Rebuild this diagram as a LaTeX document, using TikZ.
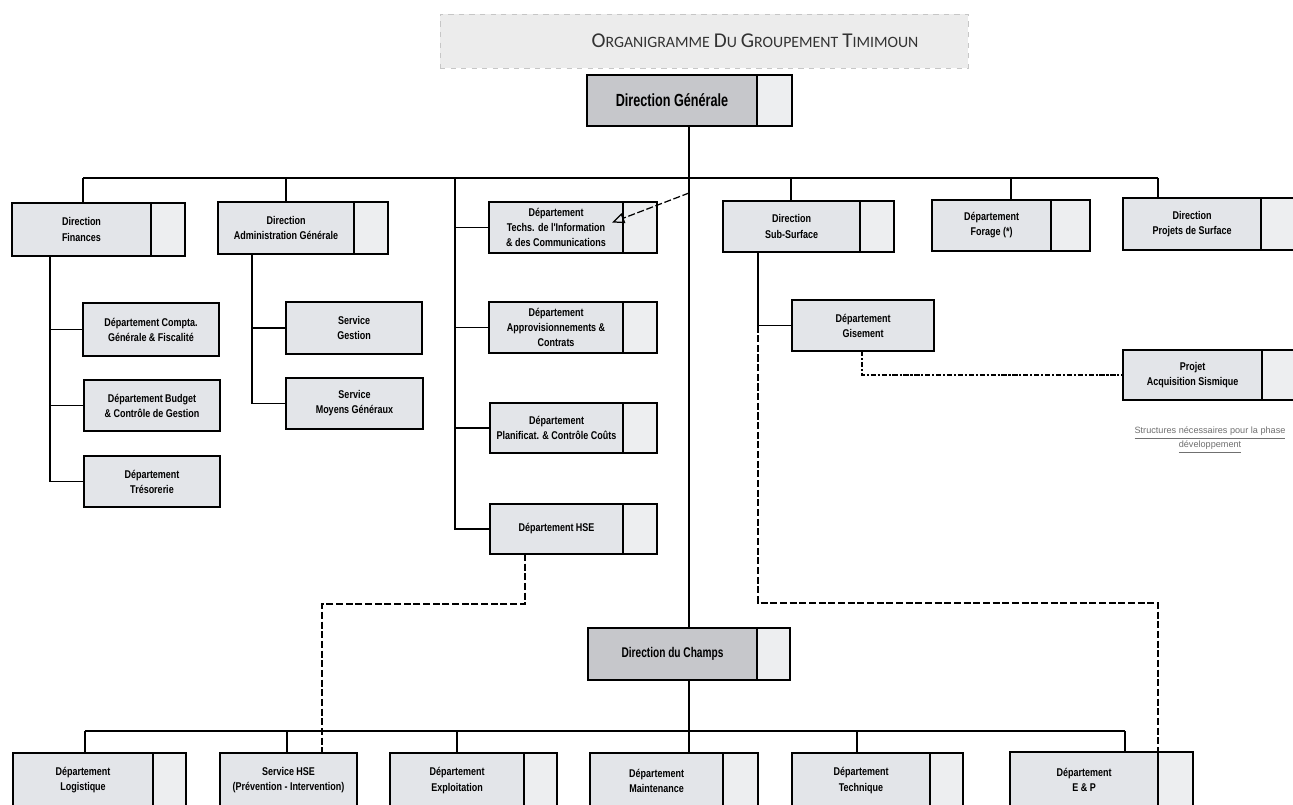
\documentclass[tikz,border=0pt]{standalone}
\usepackage{fontspec}
\setmainfont{Liberation Sans}
\newfontfamily\bxf{Liberation Sans}[FakeStretch=0.8]
\newfontfamily\dgf{Liberation Sans}[FakeStretch=0.72]
\newfontfamily\ttlf{Carlito}
\usetikzlibrary{arrows.meta,calc}
\definecolor{boxfill}{HTML}{E3E5E9}
\definecolor{sidefill}{HTML}{EDEEF0}
\definecolor{darkfill}{HTML}{C6C7CB}
\definecolor{titlefill}{HTML}{ECECEC}
\definecolor{notegray}{HTML}{707070}
\tikzset{
 box/.style={draw=black, line width=0.85pt, fill=boxfill, inner sep=0pt, outer sep=0pt, align=center, font=\bxf\bfseries\fontsize{6.4}{8.6}\selectfont},
 side/.style={draw=black, line width=0.85pt, fill=sidefill, inner sep=0pt, outer sep=0pt},
 bigbox/.style={box, fill=darkfill, font=\dgf\bfseries\fontsize{10}{12}\selectfont},
 bigboxb/.style={box, fill=darkfill, font=\dgf\bfseries\fontsize{8}{10}\selectfont},
 conn/.style={line width=0.7pt, black},
 dconn/.style={line width=0.7pt, black, dash pattern=on 4pt off 1.5pt},
 ddconn/.style={line width=1pt, black, dash pattern=on 3pt off 1pt on 1.2pt off 1pt},
 note/.style={align=center, text=notegray, inner sep=0pt, font=\fontsize{5.2}{8}\selectfont},
}
\newcommand\dbox[8][box]{%
 \node[#1, minimum width={(#4-#3)*0.02cm}, minimum height={(#7-#6)*0.02cm}] (#2) at ({(#3+#4)/2},{(#6+#7)/2}) {#8};
 \node[side, minimum width={(#5-#4)*0.02cm}, minimum height={(#7-#6)*0.02cm}, anchor=west] (#2s) at (#2.east) {};
}
\newcommand\pbox[7][box]{%
 \node[#1, minimum width={(#4-#3)*0.02cm}, minimum height={(#6-#5)*0.02cm}] (#2) at ({(#3+#4)/2},{(#5+#6)/2}) {#7};
}
\newcommand\tsc[2]{{\fontsize{12}{12}\selectfont #1}{\fontsize{9}{12}\selectfont #2}}
\begin{document}
\begin{tikzpicture}[x=0.02cm,y=-0.02cm]
\useasboundingbox (0,0) rectangle (1293,804);
\clip (0,0) rectangle (1293,804);
\fill[white] (0,0) rectangle (1293,804);
% title
\node[fill=titlefill, draw=gray!45, dashed, line width=0.4pt, minimum width={528*0.02cm}, minimum height={54*0.02cm}, inner sep=0pt] (tband) at (704,41) {};
\node[text=black!80, inner sep=0pt, font=\ttlf] (title) at (755,41) {\tsc{O}{RGANIGRAMME} \tsc{D}{U} \tsc{G}{ROUPEMENT} \tsc{T}{IMIMOUN}};
% boxes
\dbox[bigbox]{dg}{587}{757}{792}{75}{126}{Direction Générale}
\dbox{fin}{12}{151}{185}{203}{256}{Direction\\Finances}
\dbox{adm}{218}{354}{388}{202}{254}{Direction\\Administration Générale}
\dbox{tic}{489}{623}{657}{202}{253}{Département\\Techs. de l'Information\\\& des Communications}
\dbox{sub}{723}{860}{894}{201}{252}{Direction\\Sub-Surface}
\dbox{for}{932}{1051}{1090}{200}{251}{Département\\Forage (*)}
\dbox{prs}{1123}{1261}{1300}{198}{250}{Direction\\Projets de Surface}
\pbox{cpt}{83}{219}{303}{356}{Département Compta.\\Générale \& Fiscalité}
\pbox{bud}{84}{220}{380}{431}{Département Budget\\\& Contrôle de Gestion}
\pbox{tre}{84}{220}{456}{507}{Département\\Trésorerie}
\pbox{sg}{286}{422}{302}{354}{Service\\Gestion}
\pbox{mg}{286}{423}{378}{429}{Service\\Moyens Généraux}
\dbox{app}{489}{623}{657}{302}{353}{Département\\Approvisionnements \&\\Contrats}
\dbox{pla}{490}{623}{657}{403}{453}{Département\\Planificat. \& Contrôle Coûts}
\dbox{hse}{490}{623}{657}{504}{554}{Département HSE}
\pbox{gis}{792}{934}{300}{351}{Département\\Gisement}
\dbox{pas}{1123}{1262}{1300}{350}{400}{Projet\\Acquisition Sismique}
\dbox[bigboxb]{dc}{588}{757}{790}{628}{680}{Direction du Champs}
\dbox{log}{13}{153}{186}{753}{808}{Département\\Logistique}
\pbox{shs}{220}{357}{753}{808}{Service HSE\\(Prévention - Intervention)}
\dbox{exp}{390}{524}{557}{753}{808}{Département\\Exploitation}
\dbox{mai}{590}{723}{758}{753}{808}{Département\\Maintenance}
\dbox{tec}{792}{930}{963}{753}{808}{Département\\Technique}
\dbox{ep}{1010}{1158}{1193}{752}{808}{Département\\E \& P}
\node[note] (foot) at (1210,440) {\underline{Structures nécessaires pour la phase}\\\underline{développement}};
% top bus
\coordinate (tbL) at (83,178);
\coordinate (tA) at (286,178);
\coordinate (tM) at (455,178);
\coordinate (mvx) at (689,178);
\coordinate (tS) at (791,178);
\coordinate (tF) at (1011,178);
\coordinate (tbR) at (1158,178);
\draw[conn] (tbL) -- (tbR);
\draw[conn] (tbL) -- (tbL |- fin.north);
\draw[conn] (tA) -- (tA |- adm.north);
\draw[conn] (tS) -- (tS |- sub.north);
\draw[conn] (tF) -- (tF |- for.north);
\draw[conn] (tbR) -- (tbR |- prs.north);
\draw[conn] (mvx |- dg.south) -- (mvx |- dc.north);
\draw[conn] (tM) -- (tM |- hse.west) -- (hse.west);
\foreach \n in {tic,app,pla} {\draw[conn] (tM |- \n.west) -- (\n.west);}
% finances column
\coordinate (fv) at (50,0);
\draw[conn] (fv |- fin.south) -- (fv |- tre.west) -- (tre.west);
\draw[conn] (fv |- cpt.west) -- (cpt.west);
\draw[conn] (fv |- bud.west) -- (bud.west);
% admin column
\coordinate (av) at (252,0);
\draw[conn] (av |- adm.south) -- (av |- mg.west) -- (mg.west);
\draw[conn] (av |- sg.west) -- (sg.west);
% sub-surface
\coordinate (sv) at (758,0);
\draw[conn] (sv |- sub.south) -- (sv |- gis.west) -- (gis.west);
\coordinate (sd) at (758,603);
\coordinate (sd2) at (1158,603);
\draw[dconn] (sv |- gis.west) -- (sd) -- (sd2) -- (sd2 |- ep.north);
% HSE dashed
\coordinate (hd) at (525,604);
\coordinate (hd2) at (322,604);
\draw[dconn] (hd |- hse.south) -- (hd) -- (hd2) -- (hd2 |- shs.north);
% gisement to projet
\coordinate (gd) at (862,375);
\draw[ddconn] (gd |- gis.south) -- (gd) -- (pas.west);
% dashed arrow
\coordinate (as) at (689,193);
\draw[dconn, -{Triangle[open, length=7pt, width=6pt]}] (as) -- ($(tic.east)+(-11,-5)$);
% bottom bus
\coordinate (bbL) at (85,731);
\coordinate (b2) at (287,731);
\coordinate (b3) at (457,731);
\coordinate (b5) at (857,731);
\coordinate (bbR) at (1125,731);
\draw[conn] (bbL) -- (bbR);
\draw[conn] (bbL) -- (bbL |- log.north);
\draw[conn] (b2) -- (b2 |- shs.north);
\draw[conn] (b3) -- (b3 |- exp.north);
\draw[conn] (b5) -- (b5 |- tec.north);
\draw[conn] (bbR) -- (bbR |- ep.north);
\draw[conn] (mvx |- dc.south) -- (mvx |- mai.north);
\end{tikzpicture}
\end{document}
